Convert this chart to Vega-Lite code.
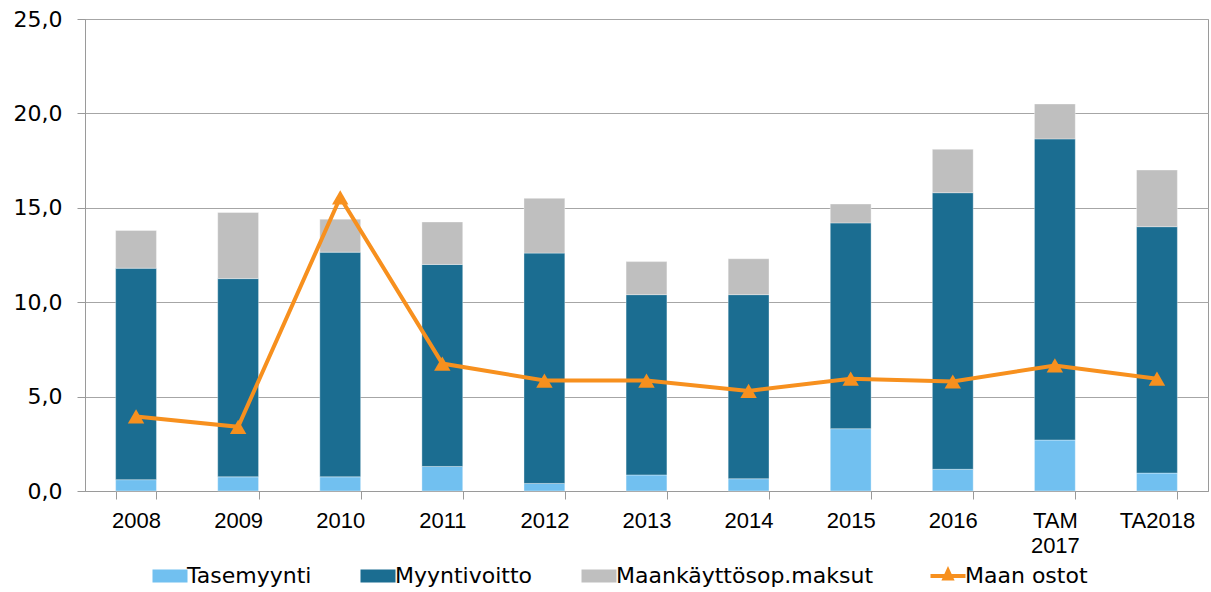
{
  "$schema": "https://vega.github.io/schema/vega-lite/v6.json",
  "width": 1123,
  "height": 472,
  "autosize": {"type": "none"},
  "padding": {"left": 85, "top": 19, "right": 3, "bottom": 101},
  "background": "#ffffff",
  "config": {
    "view": {"stroke": "#9a9a9a", "strokeWidth": 1},
    "axis": {"labelColor": "#000000", "domainColor": "#9a9a9a", "tickColor": "#9a9a9a", "gridColor": "#a6a6a6", "tickSize": 8, "title": null}
  },
  "data": {
    "values": [
      {"year": "2008", "series": "Tasemyynti", "value": 0.6},
      {"year": "2008", "series": "Myyntivoitto", "value": 11.2},
      {"year": "2008", "series": "Maankäyttösop.maksut", "value": 2.0},
      {"year": "2008", "series": "Maan ostot", "value": 3.95},
      {"year": "2009", "series": "Tasemyynti", "value": 0.75},
      {"year": "2009", "series": "Myyntivoitto", "value": 10.5},
      {"year": "2009", "series": "Maankäyttösop.maksut", "value": 3.5},
      {"year": "2009", "series": "Maan ostot", "value": 3.4},
      {"year": "2010", "series": "Tasemyynti", "value": 0.75},
      {"year": "2010", "series": "Myyntivoitto", "value": 11.9},
      {"year": "2010", "series": "Maankäyttösop.maksut", "value": 1.75},
      {"year": "2010", "series": "Maan ostot", "value": 15.55},
      {"year": "2011", "series": "Tasemyynti", "value": 1.3},
      {"year": "2011", "series": "Myyntivoitto", "value": 10.7},
      {"year": "2011", "series": "Maankäyttösop.maksut", "value": 2.25},
      {"year": "2011", "series": "Maan ostot", "value": 6.75},
      {"year": "2012", "series": "Tasemyynti", "value": 0.4},
      {"year": "2012", "series": "Myyntivoitto", "value": 12.2},
      {"year": "2012", "series": "Maankäyttösop.maksut", "value": 2.9},
      {"year": "2012", "series": "Maan ostot", "value": 5.85},
      {"year": "2013", "series": "Tasemyynti", "value": 0.85},
      {"year": "2013", "series": "Myyntivoitto", "value": 9.55},
      {"year": "2013", "series": "Maankäyttösop.maksut", "value": 1.75},
      {"year": "2013", "series": "Maan ostot", "value": 5.85},
      {"year": "2014", "series": "Tasemyynti", "value": 0.65},
      {"year": "2014", "series": "Myyntivoitto", "value": 9.75},
      {"year": "2014", "series": "Maankäyttösop.maksut", "value": 1.9},
      {"year": "2014", "series": "Maan ostot", "value": 5.3},
      {"year": "2015", "series": "Tasemyynti", "value": 3.3},
      {"year": "2015", "series": "Myyntivoitto", "value": 10.9},
      {"year": "2015", "series": "Maankäyttösop.maksut", "value": 1.0},
      {"year": "2015", "series": "Maan ostot", "value": 5.95},
      {"year": "2016", "series": "Tasemyynti", "value": 1.15},
      {"year": "2016", "series": "Myyntivoitto", "value": 14.65},
      {"year": "2016", "series": "Maankäyttösop.maksut", "value": 2.3},
      {"year": "2016", "series": "Maan ostot", "value": 5.8},
      {"year": "TAM 2017", "series": "Tasemyynti", "value": 2.7},
      {"year": "TAM 2017", "series": "Myyntivoitto", "value": 15.95},
      {"year": "TAM 2017", "series": "Maankäyttösop.maksut", "value": 1.85},
      {"year": "TAM 2017", "series": "Maan ostot", "value": 6.65},
      {"year": "TA2018", "series": "Tasemyynti", "value": 0.95},
      {"year": "TA2018", "series": "Myyntivoitto", "value": 13.05},
      {"year": "TA2018", "series": "Maankäyttösop.maksut", "value": 3.0},
      {"year": "TA2018", "series": "Maan ostot", "value": 5.95}
    ]
  },
  "encoding": {
    "x": {
      "field": "year",
      "type": "nominal",
      "sort": null,
      "scale": {"paddingInner": 0.6, "paddingOuter": 0.3},
      "axis": {
        "labelAngle": 0,
        "labelFont": "Liberation Sans",
        "labelFontSize": 22,
        "labelPadding": 11,
        "labelLineHeight": 25,
        "tickBand": "extent",
        "grid": false,
        "labelExpr": "datum.label == 'TAM 2017' ? ['TAM', '2017'] : datum.label"
      }
    },
    "color": {
      "field": "series",
      "type": "nominal",
      "scale": {
        "domain": ["Tasemyynti", "Myyntivoitto", "Maankäyttösop.maksut", "Maan ostot"],
        "range": ["#71C0F0", "#1B6D91", "#BFBFBF", "#F7901E"]
      },
      "legend": {
        "title": null,
        "orient": "none",
        "direction": "horizontal",
        "legendX": 74,
        "legendY": 546,
        "padding": 0,
        "symbolSize": 1225,
        "labelFont": "DejaVu Sans",
        "labelFontSize": 22,
        "labelColor": "#000000",
        "labelOffset": 6,
        "labelLimit": 400,
        "columnPadding": 48,
        "encode": {
          "symbols": {
            "update": {
              "shape": {"signal": "datum.value === 'Maan ostot' ? 'M-1,0H1M0,-0.3L0.2,0.14H-0.2Z' : 'M-1,-0.37H1V0.37H-1Z'"},
              "fill": {"scale": "color", "field": "value"},
              "stroke": {"scale": "color", "field": "value"},
              "strokeWidth": {"signal": "datum.value === 'Maan ostot' ? 4 : 0"},
              "opacity": {"value": 1},
              "fillOpacity": {"value": 1}
            }
          }
        }
      }
    }
  },
  "layer": [
    {
      "transform": [{"filter": "datum.series !== 'Maan ostot'"}],
      "mark": {"type": "bar", "stroke": "#ffffff", "strokeOpacity": 0.35, "strokeWidth": 1},
      "encoding": {
        "y": {
          "field": "value",
          "type": "quantitative",
          "stack": "zero",
          "scale": {"domain": [0, 25], "nice": false},
          "axis": {
            "values": [0, 5, 10, 15, 20, 25],
            "labelFont": "DejaVu Sans",
            "labelFontSize": 22,
            "labelPadding": 15,
            "grid": true,
            "labelExpr": "replace(format(datum.value, '.1f'), '.', ',')"
          }
        },
        "order": {"field": "series", "sort": "descending"}
      }
    },
    {
      "transform": [{"filter": "datum.series === 'Maan ostot'"}],
      "mark": {
        "type": "line",
        "strokeWidth": 4,
        "point": {"shape": "triangle-up", "size": 270, "filled": true, "opacity": 1}
      },
      "encoding": {
        "y": {"field": "value", "type": "quantitative"}
      }
    }
  ]
}
